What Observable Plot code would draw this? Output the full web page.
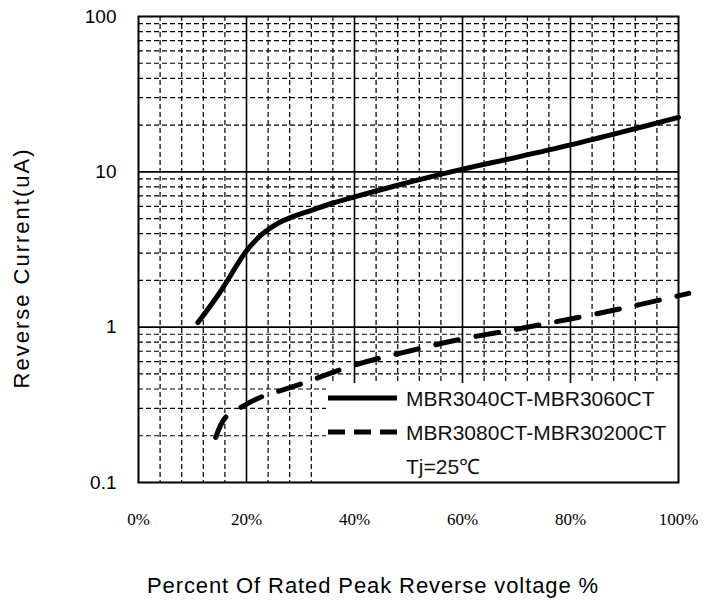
<!DOCTYPE html>
<html><head><meta charset="utf-8">
<script src="https://cdn.jsdelivr.net/npm/d3@7"></script>
<script src="https://cdn.jsdelivr.net/npm/@observablehq/plot@0.6"></script>
<style>html,body{margin:0;padding:0;background:#fff}#chart svg{display:block}</style>
</head><body><div id="chart"></div>
<script>
// Series: MBR3040CT-MBR3060CT (solid)
const solidPct = [11, 15, 20, 23, 26, 28, 32, 36, 40, 48, 52, 60, 70, 80, 90, 100];
const solidCur = [1.07, 1.66, 3.1, 4.0, 4.7, 5.05, 5.65, 6.3, 6.9, 8.2, 8.9, 10.4, 12.4, 14.9, 18.2, 22.4];
// Series: MBR3080CT-MBR30200CT (dashed)
const dashPct = [14.3, 16.1, 19.2, 23.2, 26.6, 30, 40, 50, 60, 70, 80, 90, 98.5, 101.9];
const dashCur = [0.195, 0.262, 0.308, 0.361, 0.393, 0.43, 0.57, 0.70, 0.84, 0.97, 1.13, 1.33, 1.55, 1.65];

const xTicks = [0, 20, 40, 60, 80, 100];
const xTickLabels = ["0%", "20%", "40%", "60%", "80%", "100%"];
const yTicks = [0.1, 1, 10, 100];
const yTickLabels = ["0.1", "1", "10", "100"];
const xMajorGrid = [20, 40, 60, 80];
const xMinorGrid = [4, 8, 12, 16, 24, 28, 32, 36, 44, 48, 52, 56, 64, 68, 72, 76, 84, 88, 92, 96];
const yMajorGrid = [1, 10];
const yMinorGrid = [0.2, 0.3, 0.4, 0.5, 0.6, 0.7, 0.8, 0.9, 2, 3, 4, 5, 6, 7, 8, 9, 20, 30, 40, 50, 60, 70, 80, 90];
const seriesNames = ["MBR3040CT-MBR3060CT", "MBR3080CT-MBR30200CT"];
const noteText = "Tj=25℃";
const xTitle = "Percent Of Rated Peak Reverse voltage %";
const yTitle = "Reverse Current(uA)";

const solid = solidPct.map((p, i) => ({p, c: solidCur[i]}));
const dashed = dashPct.map((p, i) => ({p, c: dashCur[i]}));

const W = 717, H = 603;
const M = {left: 138, right: 39, top: 16, bottom: 121};
const SANS = "'Liberation Sans', Arial, sans-serif";
const SERIF = "'Liberation Serif', 'Times New Roman', serif";

const chart = Plot.plot({
  width: W, height: H,
  marginLeft: M.left, marginRight: M.right, marginTop: M.top, marginBottom: M.bottom,
  style: {background: "#fff", color: "#000", fontFamily: SANS, overflow: "visible"},
  x: {domain: [0, 100]},
  y: {type: "log", domain: [0.1, 100]},
  marks: [
    Plot.ruleX(xMinorGrid, {stroke: "#000", strokeWidth: 1.2, strokeDasharray: "5,3"}),
    Plot.ruleY(yMinorGrid, {stroke: "#000", strokeWidth: 1.2, strokeDasharray: "5,3"}),
    Plot.ruleX(xMajorGrid, {stroke: "#000", strokeWidth: 1.6}),
    Plot.ruleY(yMajorGrid, {stroke: "#000", strokeWidth: 1.6}),
    Plot.line(solid, {x: "p", y: "c", stroke: "#000", strokeWidth: 5, curve: "catmull-rom"}),
    Plot.line(dashed, {x: "p", y: "c", stroke: "#000", strokeWidth: 5, strokeDasharray: "23,18", curve: "catmull-rom"}),
    Plot.frame({stroke: "#000", strokeWidth: 2}),
    Plot.axisX(xTicks, {tickSize: 0, tickPadding: 30, tickFormat: (d) => xTickLabels[xTicks.indexOf(d)], fontFamily: SERIF, fontSize: 17, label: null}),
    Plot.axisY(yTicks, {tickSize: 0, tickPadding: 22, tickFormat: (d) => yTickLabels[yTicks.indexOf(d)], fontSize: 19, label: null})
  ]
});

document.getElementById("chart").appendChild(chart);

const NS = "http://www.w3.org/2000/svg";
function el(tag, attrs, parent) {
  const e = document.createElementNS(NS, tag);
  for (const k in attrs) e.setAttribute(k, attrs[k]);
  parent.appendChild(e);
  return e;
}

// Legend (layout) placed above the grid, beneath the frame
const L = {x0: 326, y0: 383, x1: 678, y1: 482, sx0: 328, sx1: 397, tx: 406, rows: [398, 432, 466]};
const frameEl = chart.querySelector("[aria-label='frame']");
const legend = document.createElementNS(NS, "g");
if (frameEl) frameEl.parentNode.insertBefore(legend, frameEl); else chart.appendChild(legend);
el("rect", {x: L.x0, y: L.y0, width: L.x1 - L.x0, height: L.y1 - L.y0, fill: "#ffffff", stroke: "none"}, legend);
el("line", {x1: L.sx0, x2: L.sx1, y1: L.rows[0], y2: L.rows[0], stroke: "#000", "stroke-width": 5}, legend);
el("line", {x1: L.sx0, x2: L.sx1, y1: L.rows[1], y2: L.rows[1], stroke: "#000", "stroke-width": 5, "stroke-dasharray": "17,9"}, legend);
[seriesNames[0], seriesNames[1], noteText].forEach((t, i) => {
  const tx = el("text", {x: L.tx, y: L.rows[i], dy: "0.36em", "text-anchor": "start", "font-size": 21, fill: "#111", "font-family": SANS}, legend);
  tx.textContent = t;
});
if (!frameEl) { const f = chart.querySelector("[aria-label='frame']"); if (f) chart.appendChild(f); }

// Axis titles
const xt = el("text", {x: 373, y: 585, dy: "0.35em", "text-anchor": "middle", "font-size": 22, "letter-spacing": "0.9", fill: "#000", "font-family": SANS}, chart);
xt.textContent = xTitle;
const yt = el("text", {transform: "translate(21,268) rotate(-90)", dy: "0.35em", "text-anchor": "middle", "font-size": 22, "letter-spacing": "2", fill: "#000", "font-family": SANS}, chart);
yt.textContent = yTitle;
</script>
</body></html>
